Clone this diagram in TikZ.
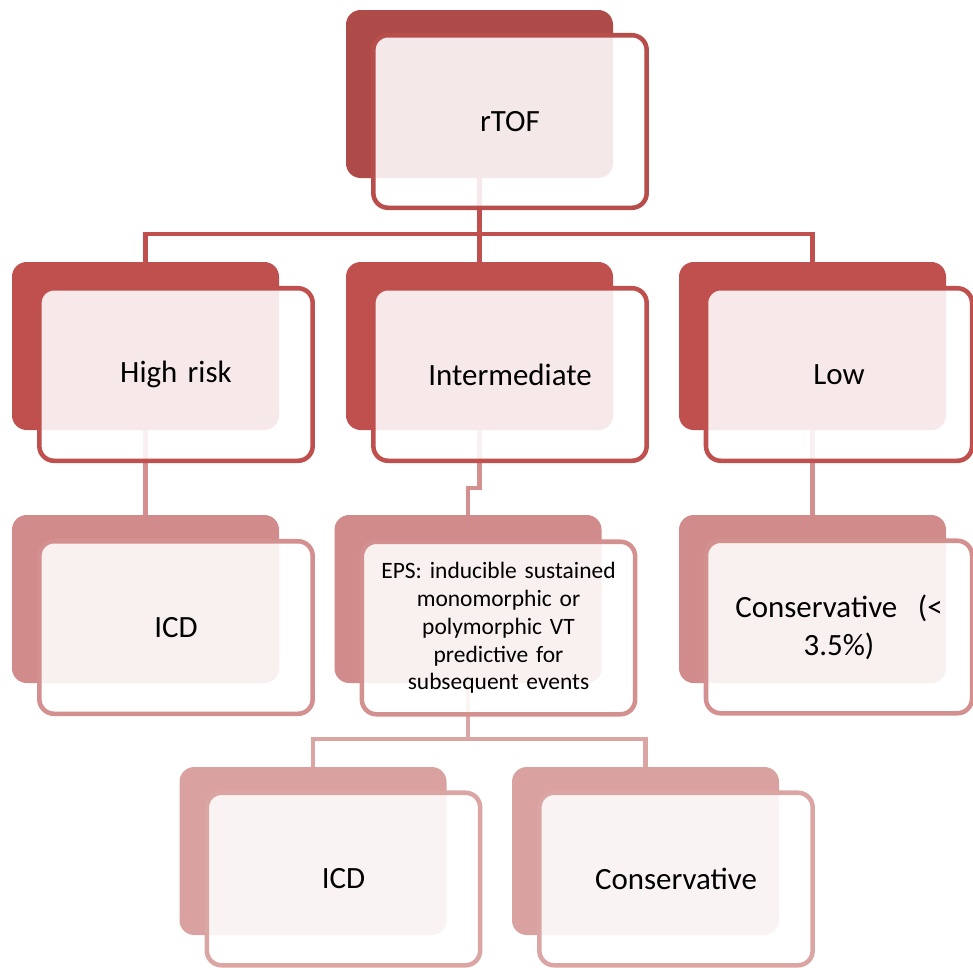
\documentclass[tikz,border=0pt]{standalone}
\usepackage{fontspec}
\setmainfont{Carlito}
\usetikzlibrary{backgrounds}
\definecolor{cAback}{HTML}{AE4A47}
\definecolor{cAline}{HTML}{B84E4B}
\definecolor{cBback}{HTML}{C0504D}
\definecolor{cBline}{HTML}{C0504D}
\definecolor{cCback}{HTML}{D08B8A}
\definecolor{cCline}{HTML}{D4908F}
\definecolor{cDback}{HTML}{D9A1A0}
\definecolor{cDline}{HTML}{DBA5A4}
\tikzset{
  backbox/.style={rounded corners=11pt, minimum width=200.25pt, minimum height=126pt, inner sep=0pt, draw=none},
  frontbox/.style={rounded corners=11pt, line width=3.4pt, fill=white, fill opacity=0.88, text opacity=1,
    minimum width=205pt, minimum height=129.4pt, inner sep=0pt, align=center, text width=190pt},
  bigtext/.style={font=\fontsize{23.2}{28.3}\selectfont},
  smalltext/.style={font=\fontsize{17.6}{20.8}\selectfont},
  conn/.style={line width=3.4pt}
}
\begin{document}
\begin{tikzpicture}[x=0.75pt,y=-0.75pt]
\useasboundingbox (0,0) rectangle (973,967);
% back boxes
\node[backbox, fill=cAback] (rb) at (479.5,94) {};
\node[backbox, fill=cBback] (hb) at (145.5,346) {};
\node[backbox, fill=cBback] (ib) at (479.5,346) {};
\node[backbox, fill=cBback] (lb) at (812.5,346) {};
\node[backbox, fill=cCback] (ab) at (145.5,599) {};
\node[backbox, fill=cCback] (eb) at (468,599) {};
\node[backbox, fill=cCback] (cb) at (812.5,599) {};
\node[backbox, fill=cDback] (db) at (313,851) {};
\node[backbox, fill=cDback] (kb) at (645.5,851) {};
% front boxes
\node[frontbox, bigtext, draw=cAline] (rf) at (510,121.5) {rTOF};
\node[frontbox, bigtext, draw=cBline] (hf) at (176,374.5) {High risk};
\node[frontbox, bigtext, draw=cBline] (if) at (510,374.5) {Intermediate};
\node[frontbox, bigtext, draw=cBline, minimum width=199.5pt] (lf) at (839,374.5) {Low};
\node[frontbox, bigtext, draw=cCline] (af) at (176,627.5) {ICD};
\node[frontbox, smalltext, draw=cCline] (ef) at (498.5,628) {EPS: inducible sustained\\monomorphic or\\polymorphic VT\\predictive for\\subsequent events};
\node[frontbox, bigtext, draw=cCline, minimum width=199.5pt] (cf) at (839,627) {Conservative~~(<\\3.5\%)};
\node[frontbox, bigtext, draw=cDline] (df) at (343.5,879) {ICD};
\node[frontbox, bigtext, draw=cDline] (kf) at (676,879) {Conservative};
% connectors
\begin{scope}[on background layer]
\coordinate (busA) at (479.5,234);
\draw[conn, cBline] (rb.south) -- (ib.north);
\draw[conn, cBline] (busA) -| (hb.north);
\draw[conn, cBline] (busA) -| (lb.north);
\draw[conn, cCline] (hb.south) -- (ab.north);
\draw[conn, cCline] (lb.south) -- (cb.north);
\coordinate (jog) at (479.5,488);
\draw[conn, cCline] (ib.south) -- (jog) -| (eb.north);
\coordinate (busB) at (468,739);
\draw[conn, cDline] (eb.south) -- (busB);
\draw[conn, cDline] (busB) -| (db.north);
\draw[conn, cDline] (busB) -| (kb.north);
\end{scope}
\end{tikzpicture}
\end{document}
